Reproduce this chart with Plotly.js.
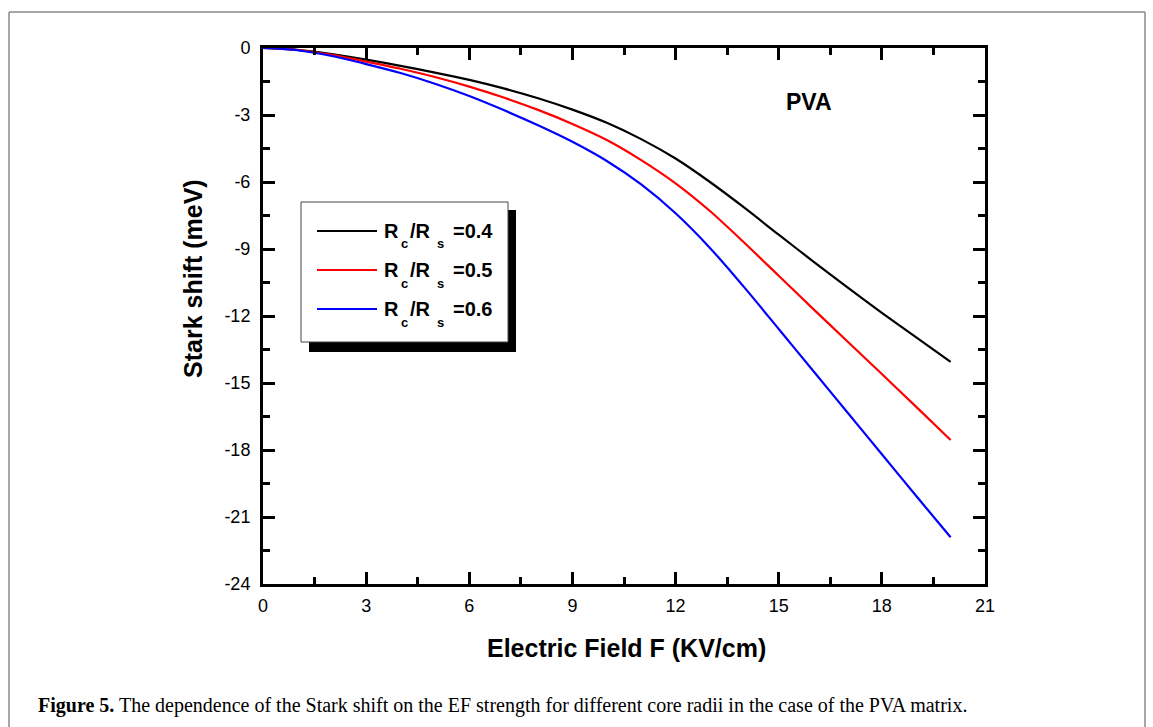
<!DOCTYPE html>
<html>
<head>
<meta charset="utf-8">
<script src="https://cdn.plot.ly/plotly-3.0.1.min.js"></script>
<style>
html,body{margin:0;padding:0;background:#fff;}
#chart{width:1153px;height:727px;}
</style>
</head>
<body>
<div id="chart"></div>
<script>
// ---- data ----
const fieldKVcm = [0,1,2,3,4,5,6,7,8,9,10,11,12,13,14,15,16,17,18,19,20];
const shiftR04 = [0,-0.08,-0.27,-0.52,-0.80,-1.10,-1.43,-1.81,-2.25,-2.76,-3.35,-4.08,-4.95,-6.00,-7.15,-8.36,-9.55,-10.72,-11.86,-12.96,-14.05];
const shiftR05 = [0,-0.09,-0.31,-0.61,-0.93,-1.30,-1.73,-2.22,-2.77,-3.40,-4.12,-5.02,-6.06,-7.30,-8.72,-10.20,-11.68,-13.14,-14.60,-16.07,-17.55];
const shiftR06 = [0,-0.10,-0.36,-0.72,-1.12,-1.60,-2.15,-2.78,-3.46,-4.20,-5.06,-6.11,-7.40,-8.95,-10.72,-12.58,-14.45,-16.32,-18.19,-20.06,-21.91];
const ratioValues = ['0.4','0.5','0.6'];
const seriesNames = ratioValues.map(v => 'Rc/Rs=' + v);
const seriesColors = ['#000000','#ff0000','#0000ff'];
const xTickVals = [0,3,6,9,12,15,18,21];
const yTickVals = [0,-3,-6,-9,-12,-15,-18,-21,-24];
const xTitle = 'Electric Field F (KV/cm)';
const yTitle = 'Stark shift (meV)';
const panelLabel = 'PVA';
const captionBold = 'Figure 5.';
const captionText = ' The dependence of the Stark shift on the EF strength for different core radii in the case of the PVA matrix.';

// ---- geometry ----
const W = 1153, H = 727;
const L = 263, R = 985, T = 48, B = 584;
const pw = R - L, ph = B - T;
const px = v => (v - L) / pw;      // pixel -> paper x
const py = v => (B - v) / ph;      // pixel -> paper y

const ys = [shiftR04, shiftR05, shiftR06];
const traces = ys.map((y, i) => ({
  x: fieldKVcm, y: y, type: 'scatter', mode: 'lines',
  name: seriesNames[i],
  line: {color: seriesColors[i], width: 2.2, shape: 'spline', smoothing: 0.8},
  showlegend: false, hoverinfo: 'skip'
}));

const ARIAL = 'Arial, "Liberation Sans", sans-serif';
const axisFont = {family: ARIAL, size: 18, color: '#000'};

const shapes = [];
const annotations = [];
const txt = (x, y, text, size, opts) => Object.assign({
  xref:'paper', yref:'paper', x:px(x), y:py(y), xanchor:'left', yanchor:'middle',
  showarrow:false, text:text, font:{family:ARIAL, size:size, color:'#000'}
}, opts || {});

// outer figure frame (open at bottom)
shapes.push({type:'line', xref:'paper', yref:'paper', x0:px(9), x1:px(1145), y0:py(12), y1:py(12), line:{color:'#8a8a8a', width:1.5}});
shapes.push({type:'line', xref:'paper', yref:'paper', x0:px(9), x1:px(9), y0:py(12), y1:py(740), line:{color:'#8a8a8a', width:1.5}});
shapes.push({type:'line', xref:'paper', yref:'paper', x0:px(1145), x1:px(1145), y0:py(12), y1:py(740), line:{color:'#8a8a8a', width:1.5}});

// legend box with shadow
shapes.push({type:'rect', xref:'paper', yref:'paper', x0:px(309), x1:px(516), y0:py(210), y1:py(352), fillcolor:'#000', line:{width:0}, layer:'above'});
shapes.push({type:'rect', xref:'paper', yref:'paper', x0:px(301), x1:px(508), y0:py(202), y1:py(342), fillcolor:'#fff', line:{color:'#444', width:1}, layer:'above'});
const rowY = [231, 270, 309];
rowY.forEach((yy, i) => {
  shapes.push({type:'line', xref:'paper', yref:'paper', x0:px(317), x1:px(377), y0:py(yy), y1:py(yy), line:{color:seriesColors[i], width:2.2}, layer:'above'});
  annotations.push(txt(382, yy, '<b>R</b>', 20));
  annotations.push(txt(399, yy + 13, '<b>c</b>', 13));
  annotations.push(txt(408, yy, '<b>/R</b>', 20));
  annotations.push(txt(435, yy + 13, '<b>s</b>', 13));
  annotations.push(txt(451, yy, '<b>=' + ratioValues[i] + '</b>', 20));
});

// PVA label
annotations.push(txt(809, 102, '<b>' + panelLabel + '</b>', 23, {xanchor:'center'}));

// axis titles
annotations.push(txt(193, 279, '<b>' + yTitle + '</b>', 25, {xanchor:'center', textangle:-90}));
annotations.push(txt(626, 648, '<b>' + xTitle + '</b>', 25, {xanchor:'center'}));

// caption
annotations.push(Object.assign(txt(36, 705, '<b>' + captionBold + '</b>' + captionText, 20),
  {font:{family:'"Liberation Serif", "Times New Roman", serif', size:20, color:'#000'}}));

const layout = {
  width: W, height: H,
  margin: {l: L, r: W - R, t: T, b: H - B, pad: 0},
  paper_bgcolor: '#fff', plot_bgcolor: '#fff',
  showlegend: false,
  xaxis: {
    range: [0, 21], tickvals: xTickVals, ticktext: xTickVals.map(String),
    ticks: 'inside', ticklen: 12, tickwidth: 3, tickcolor: '#000',
    minor: {tickvals: [1.5,4.5,7.5,10.5,13.5,16.5,19.5], ticks: 'inside', ticklen: 7, tickwidth: 3, tickcolor: '#000'},
    showline: true, linewidth: 3, linecolor: '#000', mirror: 'ticks',
    showgrid: false, zeroline: false, tickfont: axisFont, ticklabelstandoff: 3
  },
  yaxis: {
    range: [-24, 0], tickvals: yTickVals, ticktext: yTickVals.map(String),
    ticks: 'inside', ticklen: 12, tickwidth: 3, tickcolor: '#000',
    minor: {tickvals: [-1.5,-4.5,-7.5,-10.5,-13.5,-16.5,-19.5,-22.5], ticks: 'inside', ticklen: 7, tickwidth: 3, tickcolor: '#000'},
    showline: true, linewidth: 3, linecolor: '#000', mirror: 'ticks',
    showgrid: false, zeroline: false, tickfont: axisFont, ticklabelstandoff: 6
  },
  shapes: shapes,
  annotations: annotations
};

Plotly.newPlot('chart', traces, layout, {displayModeBar: false, staticPlot: true});
</script>
</body>
</html>
